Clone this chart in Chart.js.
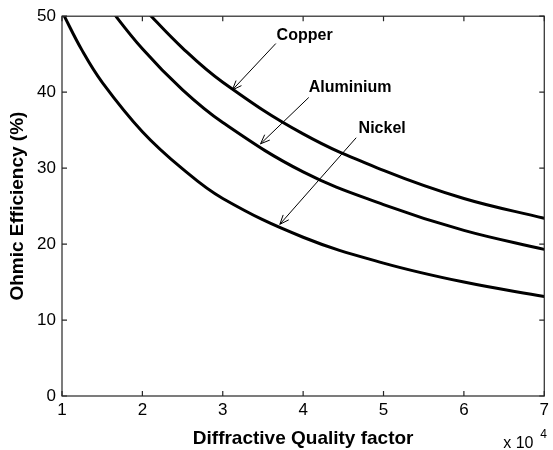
<!DOCTYPE html>
<html>
<head>
<meta charset="utf-8">
<title>Ohmic Efficiency</title>
<script src="https://cdn.jsdelivr.net/npm/chart.js@4.4.1/dist/chart.umd.min.js"></script>
<style>
    body { margin: 0; background: #ffffff; }
    #efficiency-chart { display: block; }
</style>
</head>
<body>
<canvas id="efficiency-chart" width="553" height="450"></canvas>
<script>

var copperX = [2, 2.5, 3, 4, 5, 6, 7];
var copperY = [51.2, 45.8, 41.3, 34.5, 29.7, 26.0, 23.4];

var aluminiumX = [1.5, 2, 2.5, 3, 4, 5, 6, 7];
var aluminiumY = [52.3, 45.7, 40.3, 36.0, 29.5, 25.2, 21.8, 19.3];

var nickelX = [1, 1.25, 1.5, 2, 2.5, 3, 4, 5, 6, 7];
var nickelY = [50.6, 45.5, 41.3, 34.8, 29.9, 26.0, 20.9, 17.5, 15.0, 13.1];

var xTicks = [1, 2, 3, 4, 5, 6, 7];
var yTicks = [0, 10, 20, 30, 40, 50];

// callouts, all in data units: where the name sits, where the arrow starts and where it points
var calloutNames = ["Copper", "Aluminium", "Nickel"];
var calloutText = [[3.67, 47.5], [4.07, 40.6], [4.69, 35.25]];
var calloutFrom = [[3.66, 46.4], [4.07, 39.3], [4.66, 34.0]];
var calloutTo = [[3.12, 40.3], [3.47, 33.2], [3.71, 22.6]];

var fontName = "'Liberation Sans', Arial, Helvetica, sans-serif";

function toPoints(xs, ys) {
    return xs.map(function (x, i) {
        return { x: x, y: ys[i] };
    });
}

function curve(label, xs, ys) {
    return {
        label: label,
        data: toPoints(xs, ys),
        borderColor: "#000000",
        borderWidth: 3,
        pointRadius: 0,
        tension: 0.4,
        clip: 0,
        fill: false
    };
}

var framePlugin = {
    id: "frame",
    afterDatasetsDraw: function (chart) {

        var ctx = chart.ctx;
        var area = chart.chartArea;
        var xScale = chart.scales.x;
        var yScale = chart.scales.y;

        ctx.save();

        // box and inward ticks, matlab style
        ctx.strokeStyle = "#262626";
        ctx.lineWidth = 1.2;
        ctx.strokeRect(area.left, area.top, area.right - area.left, area.bottom - area.top);

        ctx.beginPath();
        for (var v of xTicks) {
            var px = xScale.getPixelForValue(v);
            ctx.moveTo(px, area.bottom);
            ctx.lineTo(px, area.bottom - 5);
            ctx.moveTo(px, area.top);
            ctx.lineTo(px, area.top + 5);
        }
        for (var w of yTicks) {
            var py = yScale.getPixelForValue(w);
            ctx.moveTo(area.left, py);
            ctx.lineTo(area.left + 5, py);
            ctx.moveTo(area.right, py);
            ctx.lineTo(area.right - 5, py);
        }
        ctx.stroke();

        // callout arrows
        ctx.strokeStyle = "#000000";
        ctx.lineWidth = 1;
        for (var i = 0; i < calloutNames.length; i++) {

            var fx = xScale.getPixelForValue(calloutFrom[i][0]);
            var fy = yScale.getPixelForValue(calloutFrom[i][1]);
            var tx = xScale.getPixelForValue(calloutTo[i][0]);
            var ty = yScale.getPixelForValue(calloutTo[i][1]);
            var angle = Math.atan2(fy - ty, fx - tx);

            ctx.beginPath();
            ctx.moveTo(fx, fy);
            ctx.lineTo(tx, ty);
            ctx.moveTo(tx + 10 * Math.cos(angle + 0.38), ty + 10 * Math.sin(angle + 0.38));
            ctx.lineTo(tx, ty);
            ctx.lineTo(tx + 10 * Math.cos(angle - 0.38), ty + 10 * Math.sin(angle - 0.38));
            ctx.stroke();

            ctx.fillStyle = "#000000";
            ctx.font = "bold 16px " + fontName;
            ctx.textAlign = "left";
            ctx.textBaseline = "middle";
            ctx.fillText(
                calloutNames[i],
                xScale.getPixelForValue(calloutText[i][0]),
                yScale.getPixelForValue(calloutText[i][1])
            );
        }

        // exponent of the x axis
        ctx.fillStyle = "#000000";
        ctx.textAlign = "left";
        ctx.textBaseline = "alphabetic";
        ctx.font = "16px " + fontName;
        ctx.fillText("x 10", area.right - 41, 448);
        ctx.font = "12px " + fontName;
        ctx.fillText("4", area.right - 4, 438);

        ctx.restore();

    }
};

function createEfficiencyChart() {

    new Chart(
        document.getElementById("efficiency-chart"),
        {
            type: "line",
            data: {
                datasets: [
                    curve("Copper", copperX, copperY),
                    curve("Aluminium", aluminiumX, aluminiumY),
                    curve("Nickel", nickelX, nickelY)
                ]
            },
            options: {
                responsive: false,
                animation: false,
                events: [],
                layout: {
                    padding: { left: 0, right: 6, top: 15, bottom: 0 }
                },
                scales: {
                    x: {
                        type: "linear",
                        min: 1,
                        max: 7,
                        afterBuildTicks: function (scale) {
                            scale.ticks = xTicks.map(function (v) { return { value: v }; });
                        },
                        afterFit: function (scale) {
                            scale.height = 54;
                        },
                        grid: { display: false, drawTicks: false },
                        border: { display: false },
                        ticks: {
                            color: "#000000",
                            padding: 4,
                            maxRotation: 0,
                            font: { family: fontName, size: 17 }
                        },
                        title: {
                            display: true,
                            text: "Diffractive Quality factor",
                            color: "#000000",
                            padding: { top: 8, bottom: 0 },
                            font: { family: fontName, size: 19, weight: "bold" }
                        }
                    },
                    y: {
                        min: 0,
                        max: 50,
                        afterBuildTicks: function (scale) {
                            scale.ticks = yTicks.map(function (v) { return { value: v }; });
                        },
                        afterFit: function (scale) {
                            scale.width = 62;
                        },
                        grid: { display: false, drawTicks: false },
                        border: { display: false },
                        ticks: {
                            color: "#000000",
                            padding: 6,
                            font: { family: fontName, size: 17 }
                        },
                        title: {
                            display: true,
                            text: "Ohmic Efficiency (%)",
                            color: "#000000",
                            padding: { top: 6, bottom: 0 },
                            font: { family: fontName, size: 19, weight: "bold" }
                        }
                    }
                },
                plugins: {
                    legend: { display: false },
                    tooltip: { enabled: false }
                }
            },
            plugins: [framePlugin]
        }
    );

}

createEfficiencyChart();

</script>
</body>
</html>
